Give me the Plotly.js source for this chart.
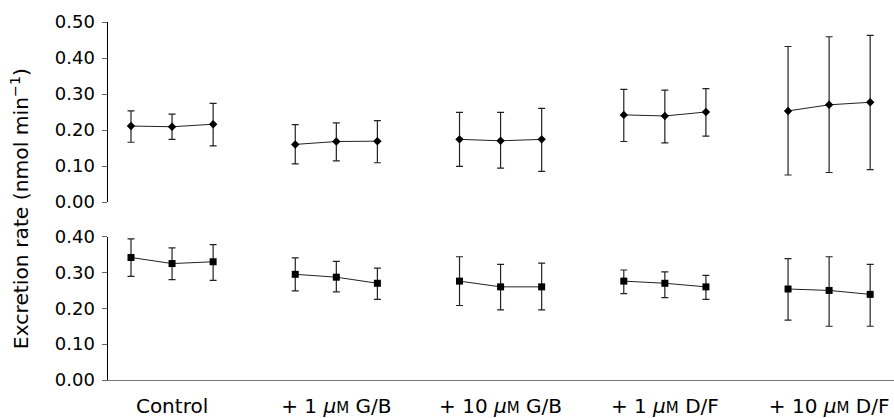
<!DOCTYPE html>
<html>
<head>
<meta charset="utf-8">
<script src="https://cdn.plot.ly/plotly-3.0.1.min.js"></script>
<style>html,body{margin:0;padding:0;background:#fff;}#chart{width:894px;height:418px;}</style>
</head>
<body>
<div id="chart"></div>
<script>
// Treatment groups (3 consecutive measurements each)
const groups = ['Control',
  '+ 1 <i>\u03bc</i><span style="font-size:15px">M</span> G/B',
  '+ 10 <i>\u03bc</i><span style="font-size:15px">M</span> G/B',
  '+ 1 <i>\u03bc</i><span style="font-size:15px">M</span> D/F',
  '+ 10 <i>\u03bc</i><span style="font-size:15px">M</span> D/F'];

// Upper panel (diamonds): mean, upper and lower error-bar ends
const topMean = [0.211,0.209,0.216, 0.160,0.168,0.169, 0.174,0.170,0.174, 0.242,0.239,0.250, 0.253,0.270,0.277];
const topHi   = [0.253,0.244,0.274, 0.215,0.220,0.226, 0.249,0.249,0.260, 0.313,0.311,0.315, 0.432,0.459,0.463];
const topLo   = [0.166,0.174,0.156, 0.106,0.114,0.109, 0.099,0.094,0.085, 0.168,0.164,0.183, 0.075,0.082,0.090];

// Lower panel (squares)
const botMean = [0.342,0.325,0.330, 0.295,0.287,0.270, 0.276,0.260,0.260, 0.276,0.270,0.260, 0.254,0.250,0.239];
const botHi   = [0.394,0.369,0.378, 0.341,0.331,0.312, 0.344,0.323,0.326, 0.307,0.302,0.292, 0.339,0.344,0.323];
const botLo   = [0.289,0.280,0.278, 0.249,0.246,0.225, 0.208,0.196,0.196, 0.241,0.230,0.225, 0.167,0.150,0.150];

const topTicks = [0, 0.1, 0.2, 0.3, 0.4, 0.5];
const botTicks = [0, 0.1, 0.2, 0.3, 0.4];
const yTitle = 'Excretion rate (nmol min<sup>\u22121</sup>)';

const FONT = 'DejaVu Sans, Verdana, sans-serif';
const PER = 3, GAP = 4;

function groupTraces(mean, hi, lo, yaxis, symbol) {
  const out = [];
  for (let g = 0; g < groups.length; g++) {
    const xs = [], ys = [], ep = [], em = [];
    for (let k = 0; k < PER; k++) {
      const i = g * PER + k;
      xs.push(g * GAP + k);
      ys.push(mean[i]);
      ep.push(hi[i] - mean[i]);
      em.push(mean[i] - lo[i]);
    }
    out.push({
      type: 'scatter', mode: 'lines+markers', x: xs, y: ys,
      xaxis: 'x', yaxis: yaxis, showlegend: false, hoverinfo: 'skip',
      line: {color: '#222', width: 1},
      marker: {symbol: symbol, size: symbol === 'square' ? 7 : 6.5, color: '#000'},
      error_y: {type: 'data', symmetric: false, array: ep, arrayminus: em,
                color: '#222', thickness: 1.2, width: 3.5}
    });
  }
  return out;
}

const data = groupTraces(topMean, topHi, topLo, 'y', 'diamond')
  .concat(groupTraces(botMean, botHi, botLo, 'y2', 'square'));

const yCommon = {
  showgrid: false, zeroline: false, showline: true, linecolor: '#000', linewidth: 1.5,
  ticks: 'outside', ticklen: 5, tickwidth: 1, tickcolor: '#666',
  ticklabelstandoff: 3,
  tickformat: '.2f', tickfont: {family: FONT, size: 18, color: '#000'},
  anchor: 'x', fixedrange: true
};

const layout = {
  width: 894, height: 418,
  margin: {l: 108, r: 0, t: 22, b: 38},
  paper_bgcolor: '#fff', plot_bgcolor: '#fff',
  font: {family: FONT, color: '#000'},
  xaxis: {
    domain: [0, 1], anchor: 'y2', range: [-0.56, 18.58],
    showgrid: false, zeroline: false, showline: true, linecolor: '#777', linewidth: 1,
    tickmode: 'array',
    tickvals: groups.map((_, g) => g * GAP + 1),
    ticktext: groups,
    ticks: 'outside', ticklen: 8, tickcolor: 'rgba(0,0,0,0)',
    tickfont: {family: FONT, size: 20, color: '#000'}, fixedrange: true
  },
  yaxis: Object.assign({}, yCommon, {domain: [0.4972, 1], range: [0, 0.5],
    tickmode: 'array', tickvals: topTicks}),
  yaxis2: Object.assign({}, yCommon, {domain: [0, 0.4003], range: [0, 0.4],
    tickmode: 'array', tickvals: botTicks}),
  annotations: [{
    text: yTitle, xref: 'paper', yref: 'paper',
    x: -0.112, y: 0.48, xanchor: 'center', yanchor: 'middle',
    textangle: -90, showarrow: false,
    font: {family: FONT, size: 20.3, color: '#000'}
  }]
};

Plotly.newPlot('chart', data, layout, {displayModeBar: false, staticPlot: true});
</script>
</body>
</html>
